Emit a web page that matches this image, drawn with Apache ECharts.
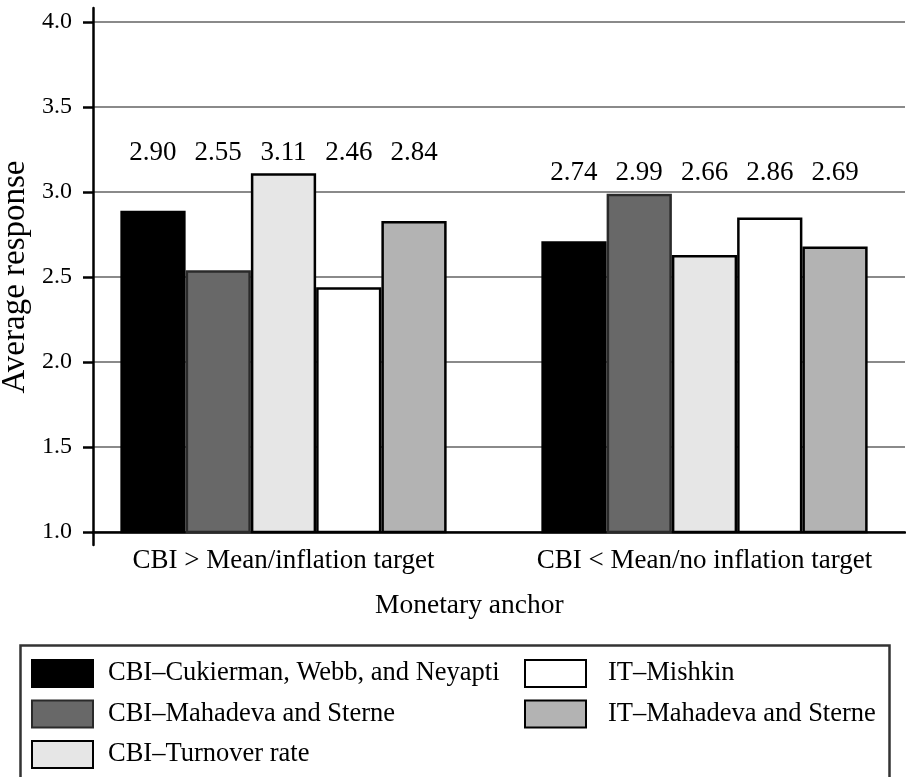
<!DOCTYPE html>
<html>
<head>
<meta charset="utf-8">
<script src="https://cdn.jsdelivr.net/npm/echarts@6/dist/echarts.min.js"></script>
<style>
html,body{margin:0;padding:0;background:#fff;overflow:hidden;}
#chart{width:915px;height:777px;}
</style>
</head>
<body>
<div id="chart"></div>
<script>
const categories = ['CBI > Mean/inflation target', 'CBI < Mean/no inflation target'];
const seriesNames = ['CBI\u2013Cukierman, Webb, and Neyapti', 'CBI\u2013Mahadeva and Sterne', 'CBI\u2013Turnover rate', 'IT\u2013Mishkin', 'IT\u2013Mahadeva and Sterne'];
// bar heights as drawn in the picture
const cukierman = [2.89, 2.71];
const mahadevaCBI = [2.54, 2.99];
const turnover = [3.11, 2.63];
const mishkin = [2.44, 2.85];
const mahadevaIT = [2.83, 2.68];
// printed value labels
const cukiermanLabels = ['2.90', '2.74'];
const mahadevaCBILabels = ['2.55', '2.99'];
const turnoverLabels = ['3.11', '2.66'];
const mishkinLabels = ['2.46', '2.86'];
const mahadevaITLabels = ['2.84', '2.69'];
const yTicks = { min: 1.0, max: 4.0, interval: 0.5 };

const barValues = [cukierman, mahadevaCBI, turnover, mishkin, mahadevaIT];
const barLabels = [cukiermanLabels, mahadevaCBILabels, turnoverLabels, mishkinLabels, mahadevaITLabels];
const colors = ['#000000', '#686868', '#e6e6e6', '#ffffff', '#b3b3b3'];
const borderColors = ['#000000', '#2a2a2a', '#000000', '#000000', '#000000'];
const FONT = 'Liberation Serif';

// label height above each group: top of tallest bar plus a fixed gap
const groupMax = categories.map((c, i) => Math.max(...barValues.map(v => v[i])));
const labelLift = 0.12;

const series = seriesNames.map((name, s) => ({
  name: name,
  type: 'bar',
  xAxisIndex: 2,
  yAxisIndex: 2,
  barGap: '0%',
  barCategoryGap: '22.5%',
  data: barValues[s],
  itemStyle: { color: colors[s], borderColor: borderColors[s], borderWidth: 2.5 },
  emphasis: { disabled: true },
  markPoint: {
    symbol: 'rect',
    symbolSize: 1,
    itemStyle: { color: 'rgba(0,0,0,0)' },
    label: {
      show: true, position: 'inside', color: '#000',
      fontFamily: FONT, fontSize: 27,
      formatter: p => p.data.text
    },
    data: categories.map((c, i) => ({ coord: [i, groupMax[i] + labelLift], text: barLabels[s][i] }))
  }
}));

const legendText = { color: '#000', fontFamily: FONT, fontSize: 26.5, lineHeight: 27 };

const chart = echarts.init(document.getElementById('chart'), null, { renderer: 'canvas' });
chart.setOption({
  animation: false,
  backgroundColor: '#fff',
  textStyle: { fontFamily: FONT },
  title: {
    text: 'Monetary anchor', left: 370, top: 587,
    textStyle: { fontFamily: FONT, fontSize: 27.5, fontWeight: 'normal', color: '#000' }
  },
  grid: [
    { left: 93, right: 30, top: 8, height: 537, outerBoundsMode: 'none', containLabel: false },
    { left: 93, right: 10, top: 22, height: 510, outerBoundsMode: 'none', containLabel: false },
    { left: 73, width: 842, top: 22, height: 510, outerBoundsMode: 'none', containLabel: false }
  ],
  xAxis: [
    { gridIndex: 0, type: 'value', show: false },
    { gridIndex: 1, type: 'value', min: 0, max: 1,
      axisLine: { show: true, onZero: false, lineStyle: { color: '#000', width: 2.5 } },
      axisTick: { show: false }, axisLabel: { show: false }, splitLine: { show: false } },
    { gridIndex: 2, type: 'category', data: categories,
      axisLine: { show: false }, axisTick: { show: false },
      axisLabel: { interval: 0, color: '#000', fontFamily: FONT, fontSize: 27, margin: 15 } }
  ],
  yAxis: [
    { gridIndex: 0, type: 'value', min: 0, max: 1,
      axisLine: { show: true, lineStyle: { color: '#000', width: 2.5 } },
      axisTick: { show: false }, axisLabel: { show: false }, splitLine: { show: false } },
    { gridIndex: 1, type: 'value', min: yTicks.min, max: yTicks.max, interval: yTicks.interval,
      name: 'Average response', nameLocation: 'middle', nameGap: 61, nameRotate: 90,
      nameMoveOverlap: false,
      nameTextStyle: { color: '#000', fontFamily: FONT, fontSize: 33 },
      axisLine: { show: false },
      axisTick: { show: true, length: 10, lineStyle: { color: '#000', width: 2.5 } },
      axisLabel: { color: '#000', fontFamily: FONT, fontSize: 24, margin: 21,
        formatter: v => v.toFixed(1) },
      splitLine: { show: true, lineStyle: { color: '#8a8a8a', width: 2 } } },
    { gridIndex: 2, type: 'value', min: yTicks.min, max: yTicks.max, show: false }
  ],
  legend: [
    { orient: 'vertical', left: 31, top: 659, height: 118, padding: 0,
      itemWidth: 61, itemHeight: 27, itemGap: 11.5,
      icon: 'rect', selectedMode: false,
      data: [seriesNames[0], seriesNames[1], seriesNames[2]],
      textStyle: Object.assign({ padding: [0, 0, 0, 10] }, legendText) },
    { orient: 'vertical', left: 524, top: 659, height: 118, padding: 0,
      itemWidth: 61, itemHeight: 27, itemGap: 11.5,
      icon: 'rect', selectedMode: false,
      data: [seriesNames[3], seriesNames[4]],
      textStyle: Object.assign({ padding: [0, 0, 0, 17] }, legendText) }
  ],
  graphic: [
    { type: 'rect', left: 18, top: 643, silent: true,
      shape: { width: 869, height: 160 },
      style: { fill: 'none', stroke: '#333', lineWidth: 2.5 } }
  ],
  series: series
});
</script>
</body>
</html>
